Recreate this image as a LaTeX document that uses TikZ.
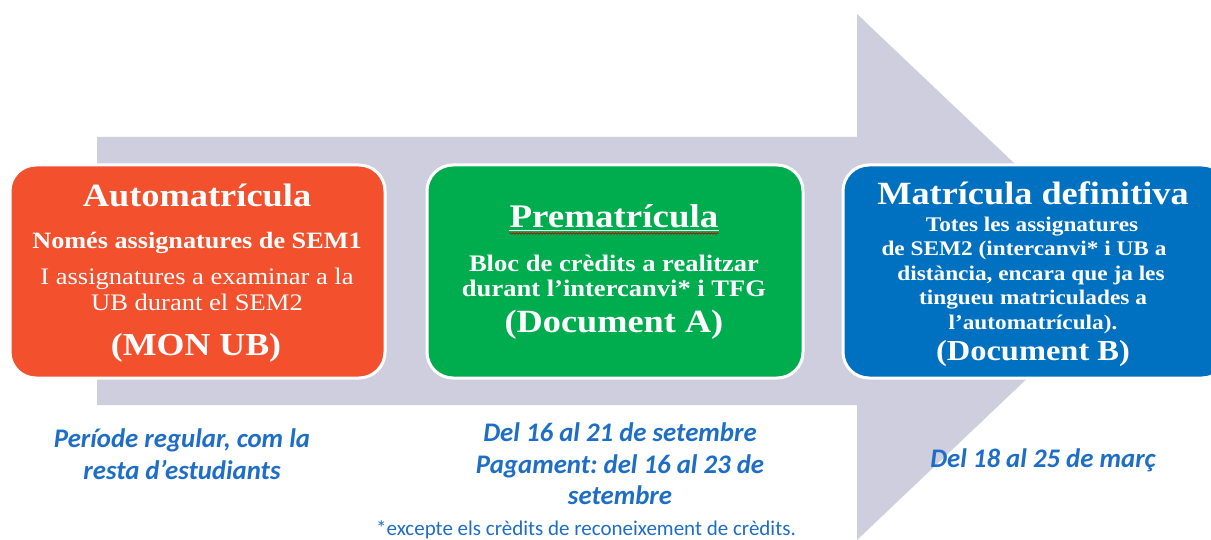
\documentclass[tikz,border=0pt]{standalone}
\usepackage{fontspec}
\usetikzlibrary{decorations.pathmorphing,calc}
\newfontfamily\cam[FakeStretch=1.12]{Liberation Serif}
\newfontfamily\calf{Carlito}
\definecolor{arrowc}{RGB}{206,206,222}
\definecolor{orng}{RGB}{243,80,45}
\definecolor{grn}{RGB}{0,173,78}
\definecolor{blu}{RGB}{0,112,192}
\definecolor{txtb}{RGB}{30,110,200}
\frenchspacing
\tikzset{
  box/.style={draw=white, line width=3pt, rounded corners=26pt},
  tl/.style={anchor=base, inner sep=0pt, text=white, font=\cam},
  bt/.style={anchor=base, inner sep=0pt, text=txtb, font=\calf\bfseries\itshape\fontsize{26.8}{26.8}\selectfont},
}
\begin{document}
\begin{tikzpicture}[x=1pt,y=-1pt]
\useasboundingbox (0,0) rectangle (1211,540);
\fill[white] (0,0) rectangle (1211,540);
\clip (0,0) rectangle (1211,540);
% big arrow
\fill[arrowc] (97,137) -- (857,137) -- (857,14) -- (1134,277) -- (857,540) -- (857,405) -- (97,405) -- cycle;
% boxes
\draw[box, fill=orng] (10,165) rectangle (385,378);
\draw[box, fill=grn] (427,165) rectangle (803,378);
\draw[box, fill=blu] (843,165) rectangle (1228,378);
% orange texts
\node[tl, font=\cam\bfseries\fontsize{32.5}{32.5}\selectfont] (a1) at (197,207) {Automatrícula};
\node[tl, font=\cam\bfseries\fontsize{23.4}{23.4}\selectfont] (a2) at (197,249) {Només assignatures de SEM1};
\node[tl, font=\cam\fontsize{23.7}{23.7}\selectfont] (a3) at (197,285) {I assignatures a examinar a la};
\node[tl, font=\cam\fontsize{23.7}{23.7}\selectfont] (a4) at (197,310) {UB durant el SEM2};
\node[tl, font=\cam\bfseries\fontsize{32}{32}\selectfont] (a5) at (196,355) {(MON UB)};
% green texts
\node[tl, font=\cam\bfseries\fontsize{33}{33}\selectfont] (p1) at (614,228) {Prematrícula};
\draw[white, line width=1pt] ($(p1.base west)+(0,3)$) -- ($(p1.base east)+(0,3)$);
\draw[red!80!black, line width=0.6pt, decorate, decoration={snake, amplitude=0.8pt, segment length=3pt}] ($(p1.base west)+(0,5.5)$) -- ($(p1.base east)+(0,5.5)$);
\node[tl, font=\cam\bfseries\fontsize{23.7}{23.7}\selectfont] (p2) at (614,272) {Bloc de crèdits a realitzar};
\node[tl, font=\cam\bfseries\fontsize{23.7}{23.7}\selectfont] (p3) at (614,297) {durant l’intercanvi* i TFG};
\node[tl, font=\cam\bfseries\fontsize{32.4}{32.4}\selectfont] (p4) at (614,332) {(Document A)};
% blue texts
\node[tl, font=\cam\bfseries\fontsize{32.4}{32.4}\selectfont] (m1) at (1033,205) {Matrícula definitiva};
\node[tl, font=\cam\bfseries\fontsize{20.8}{20.8}\selectfont] (m2) at (1032,232) {Totes les assignatures};
\node[tl, font=\cam\bfseries\fontsize{20.8}{20.8}\selectfont] (m3) at (1024,256) {de SEM2 (intercanvi* i UB a};
\node[tl, font=\cam\bfseries\fontsize{20.8}{20.8}\selectfont] (m4) at (1031,280) {distància, encara que ja les};
\node[tl, font=\cam\bfseries\fontsize{20.8}{20.8}\selectfont] (m5) at (1033,305) {tingueu matriculades a};
\node[tl, font=\cam\bfseries\fontsize{20.8}{20.8}\selectfont] (m6) at (1033,330) {l’automatrícula).};
\node[tl, font=\cam\bfseries\fontsize{29}{29}\selectfont] (m7) at (1033,360) {(Document B)};
% bottom texts
\node[bt] (b1) at (182,447) {Període regular, com la};
\node[bt] (b2) at (182,479) {resta d’estudiants};
\node[bt] (c1) at (620,441) {Del 16 al 21 de setembre};
\node[bt] (c2) at (620,473) {Pagament: del 16 al 23 de};
\node[bt] (c3) at (620,504) {setembre};
\node[bt] (d1) at (1043,467) {Del 18 al 25 de març};
\node[anchor=base, inner sep=0pt, text=txtb, font=\calf\fontsize{21}{21}\selectfont] (f1) at (586,535) {*excepte els crèdits de reconeixement de crèdits.};
\end{tikzpicture}
\end{document}
